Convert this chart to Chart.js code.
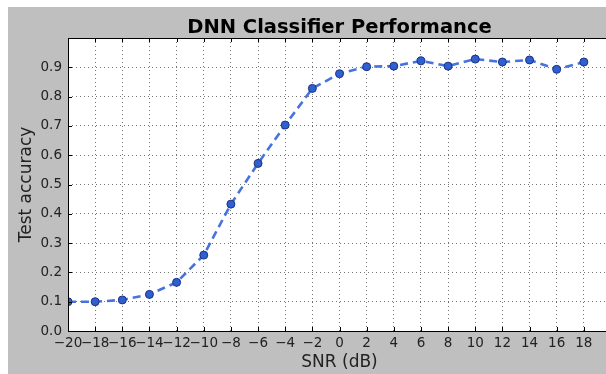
<!DOCTYPE html>
<html>
<head>
<meta charset="utf-8">
<script src="https://cdn.jsdelivr.net/npm/chart.js@4/dist/chart.umd.min.js"></script>
<style>
    html, body { margin: 0; padding: 0; background: #fff; overflow: hidden; }
    #wrap { position: relative; width: 606px; height: 374px; overflow: hidden; }
    canvas { position: absolute; left: 0; top: 0; }
</style>
</head>
<body>
<div id="wrap"><canvas id="perf" width="625" height="374"></canvas></div>
<script>
const snrDb = [-20, -18, -16, -14, -12, -10, -8, -6, -4, -2, 0, 2, 4, 6, 8, 10, 12, 14, 16, 18];
const testAccuracy = [0.100, 0.100, 0.106, 0.125, 0.166, 0.259, 0.433, 0.572, 0.703, 0.828,
                      0.878, 0.902, 0.904, 0.922, 0.904, 0.928, 0.918, 0.925, 0.893, 0.918];
const titleText = "DNN Classifier Performance";
const xLabel = "SNR (dB)";
const yLabel = "Test accuracy";

const FONT = "'DejaVu Sans', sans-serif";

function fmtX(v) {
    if (v >= 20) return "";
    return v < 0 ? "\u2212" + Math.abs(v) : String(v);
}

// matplotlib-ish frame: grey figure, white axes, inward ticks, titles
const mplFrame = {
    id: "mplFrame",
    beforeDraw(chart) {
        const { ctx, chartArea: a } = chart;
        ctx.save();
        ctx.fillStyle = "#bfbfbf";
        ctx.fillRect(8, 7, chart.width, chart.height);
        ctx.fillStyle = "#fff";
        ctx.fillRect(a.left, a.top, a.right - a.left, a.bottom - a.top);
        ctx.restore();
    },
    afterDraw(chart) {
        const { ctx, chartArea: a, scales } = chart;
        ctx.save();
        ctx.strokeStyle = "#000";
        ctx.lineWidth = 1;
        ctx.strokeRect(Math.round(a.left) + 0.5, Math.round(a.top) + 0.5,
                       Math.round(a.right - a.left), Math.round(a.bottom - a.top));

        // inward tick marks
        ctx.beginPath();
        scales.x.ticks.forEach(t => {
            const px = Math.round(scales.x.getPixelForValue(t.value)) + 0.5;
            ctx.moveTo(px, a.bottom); ctx.lineTo(px, a.bottom - 4);
            ctx.moveTo(px, a.top); ctx.lineTo(px, a.top + 4);
        });
        scales.y.ticks.forEach(t => {
            const py = Math.round(scales.y.getPixelForValue(t.value)) + 0.5;
            ctx.moveTo(a.left, py); ctx.lineTo(a.left + 4, py);
            ctx.moveTo(a.right, py); ctx.lineTo(a.right - 4, py);
        });
        ctx.stroke();

        const cx = (a.left + a.right) / 2;
        ctx.fillStyle = "#000";
        ctx.textAlign = "center";
        ctx.textBaseline = "alphabetic";
        ctx.font = "bold 19.5px " + FONT;
        ctx.fillText(titleText, cx, 33);

        ctx.fillStyle = "#222";
        ctx.font = "17px " + FONT;
        ctx.fillText(xLabel, cx, 367);

        ctx.translate(31, (a.top + a.bottom) / 2);
        ctx.rotate(-Math.PI / 2);
        ctx.fillText(yLabel, 0, 0);
        ctx.restore();
    }
};

const gridStyle = { color: "rgba(0,0,0,0.55)", lineWidth: 1, drawTicks: false };
const dotted = { display: false, dash: [1, 3] };

new Chart(document.getElementById("perf"), {
    type: "line",
    data: {
        labels: snrDb,
        datasets: [{
            data: snrDb.map((x, i) => ({ x: x, y: testAccuracy[i] })),
            borderColor: "#4673e0",
            borderWidth: 2.6,
            borderDash: [8, 5],
            pointRadius: 4,
            pointBackgroundColor: "#2f5fd0",
            pointBorderColor: "#1c3380",
            pointBorderWidth: 1,
            tension: 0,
            fill: false,
            clip: 0
        }]
    },
    options: {
        responsive: false,
        animation: false,
        devicePixelRatio: 1,
        layout: { padding: { top: 38, right: 14, bottom: 0, left: 0 } },
        plugins: { legend: { display: false }, tooltip: { enabled: false }, title: { display: false } },
        scales: {
            x: {
                type: "linear",
                min: -20,
                max: 20,
                afterFit: s => { s.height = 43; },
                border: dotted,
                grid: gridStyle,
                ticks: {
                    stepSize: 2,
                    autoSkip: false,
                    maxRotation: 0,
                    padding: 4,
                    color: "#222",
                    font: { family: FONT, size: 13.5 },
                    callback: v => fmtX(v)
                }
            },
            y: {
                min: 0,
                max: 1,
                afterFit: s => { s.width = 68; },
                border: dotted,
                grid: gridStyle,
                ticks: {
                    stepSize: 0.1,
                    padding: 6,
                    color: "#222",
                    font: { family: FONT, size: 13.5 },
                    callback: v => (v > 0.99 ? "" : v.toFixed(1))
                }
            }
        }
    },
    plugins: [mplFrame]
});
</script>
</body>
</html>
